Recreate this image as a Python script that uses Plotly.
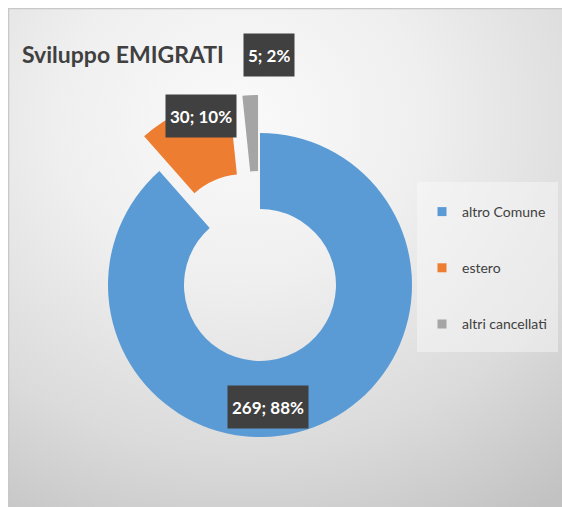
import base64
import plotly.graph_objects as go

# ---- data ----
categories = ["altro Comune", "estero", "altri cancellati"]
values = [269, 30, 5]
colors = ["#5B9BD5", "#ED7D31", "#A5A5A5"]
title_text = "Sviluppo EMIGRATI"

W, H = 562, 507
total = sum(values)
label_texts = [f"{v}; {round(100 * v / total)}%" for v in values]

FONT = "Lato, Roboto, Liberation Sans, sans-serif"

def px(x):
    return x / W

def py(y):
    return 1 - y / H

# background gradient as an inline SVG image
svg = f'''<svg xmlns="http://www.w3.org/2000/svg" width="{W-8}" height="{H-8}" viewBox="0 0 {W-8} {H-8}" preserveAspectRatio="none">
<defs><radialGradient id="g" cx="0.42" cy="0.22" r="0.95">
<stop offset="0" stop-color="#fafafa"/>
<stop offset="0.35" stop-color="#efefef"/>
<stop offset="0.7" stop-color="#dbdbdb"/>
<stop offset="1" stop-color="#c2c2c2"/>
</radialGradient></defs>
<rect x="0" y="0" width="{W-8}" height="{H-8}" fill="url(#g)"/>
<rect x="0.5" y="0.5" width="{W-7}" height="{H-7}" fill="none" stroke="#c8c8c8" stroke-width="1.5"/>
</svg>'''
svg_uri = "data:image/svg+xml;base64," + base64.b64encode(svg.encode()).decode()

fig = go.Figure()

cx, cy, r, pullmax = 260, 285, 152, 0.25
half = r * (1 + pullmax)
fig.add_trace(go.Pie(
    labels=categories,
    values=values,
    marker=dict(colors=colors, line=dict(width=0)),
    hole=0.5,
    sort=False,
    direction="clockwise",
    rotation=0,
    pull=[0, 0.25, 0.25],
    textinfo="none",
    showlegend=False,
    domain=dict(x=[px(cx - half), px(cx + half)], y=[py(cy + half), py(cy - half)]),
))

# legend entries
for name, col in zip(categories, colors):
    fig.add_trace(go.Scatter(
        x=[None], y=[None], mode="markers", name=name, legendgroup=name,
        marker=dict(symbol="square", size=9, color=col),
    ))

# data labels in dark boxes
label_pos = [(268, 407), (201, 116), (269, 55)]
for txt, (lx, ly) in zip(label_texts, label_pos):
    fig.add_annotation(
        x=px(lx), y=py(ly), xref="paper", yref="paper",
        text=f"<b>{txt}</b>", showarrow=False,
        font=dict(family=FONT, size=17, color="white"),
        bgcolor="#404040", borderpad=4, height=34,
        xanchor="center", yanchor="middle",
    )

# title
fig.add_annotation(
    x=px(20), y=py(54), xref="paper", yref="paper",
    text=f"<b>{title_text}</b>", showarrow=False,
    font=dict(family=FONT, size=23, color="#404040"),
    xanchor="left", yanchor="middle",
)

fig.update_layout(
    width=W, height=H, autosize=False,
    margin=dict(l=0, r=0, t=0, b=0),
    paper_bgcolor="white",
    plot_bgcolor="rgba(0,0,0,0)",
    xaxis=dict(visible=False),
    yaxis=dict(visible=False),
    images=[dict(source=svg_uri, xref="paper", yref="paper", x=px(8), y=py(8),
                 sizex=(W - 8) / W, sizey=(H - 8) / H, xanchor="left", yanchor="top",
                 sizing="stretch", layer="below")],
    shapes=[dict(type="rect", xref="paper", yref="paper",
                 x0=px(417), x1=px(558), y0=py(352), y1=py(182),
                 fillcolor="rgba(250,250,250,0.45)", line=dict(width=0), layer="below")],
    legend=dict(
        x=px(422), y=py(196), xanchor="left", yanchor="top",
        bgcolor="rgba(0,0,0,0)", tracegroupgap=35, itemwidth=30,
        font=dict(family=FONT, size=14, color="#404040"),
    ),
    showlegend=True,
)

post = ("document.body.style.margin='0';"
        "var gd=document.getElementById('{plot_id}');"
        "Plotly.relayout(gd,{width:%d,height:%d});" % (W, H))
fig.write_html("out.html", config={"displayModeBar": False, "responsive": False},
               post_script=post)
